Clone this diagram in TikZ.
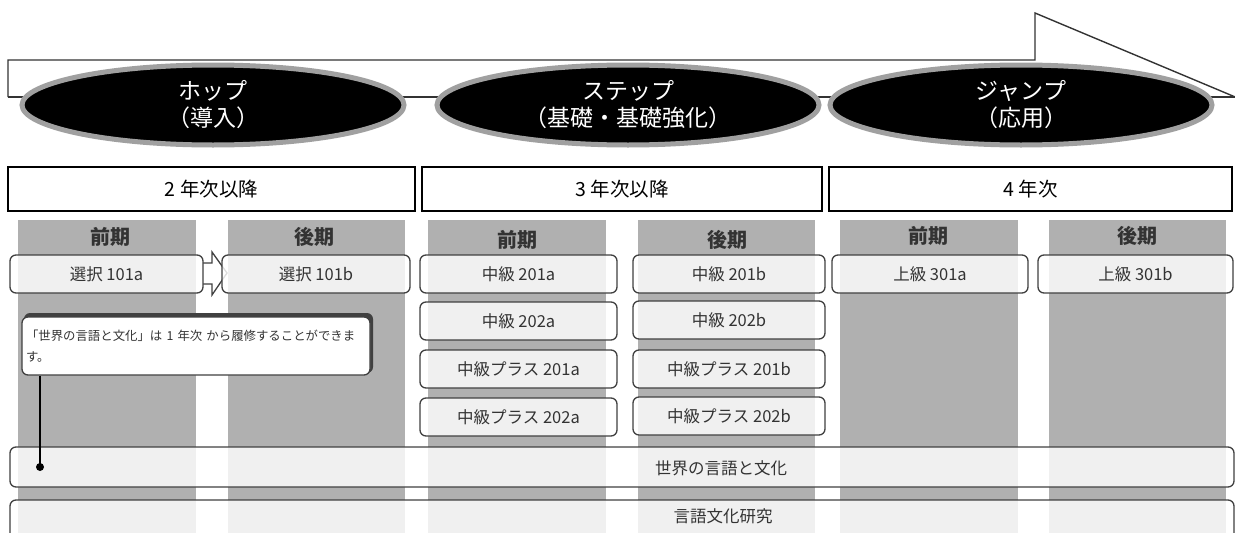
\documentclass[tikz,border=0pt]{standalone}
\usepackage{fontspec}
\setmainfont{Noto Sans CJK JP}
\usetikzlibrary{shapes.geometric}
\definecolor{colgrey}{HTML}{B0B0B0}
\definecolor{boxline}{HTML}{404040}
\definecolor{txtgrey}{HTML}{333333}
\definecolor{ellline}{HTML}{A0A0A0}
\tikzset{
  phase/.style={ellipse, fill=black, draw=ellline, line width=5pt, text=white,
    minimum width=382pt, minimum height=80pt, align=center, inner sep=0pt,
    font=\fontsize{23}{27}\selectfont},
  yearbox/.style={rectangle, draw=black, line width=1.3pt, fill=white,
    minimum height=44pt, inner sep=0pt, font=\fontsize{19.5}{22}\selectfont},
  termcol/.style={fill=colgrey, draw=none},
  hdr/.style={text=txtgrey, font=\fontsize{20}{22}\selectfont\bfseries, inner sep=0pt},
  course/.style={rectangle, rounded corners=6pt, draw=boxline, line width=1.3pt,
    fill=white, fill opacity=0.82, text opacity=1, text=txtgrey,
    minimum height=38pt, inner sep=0pt, font=\fontsize{16.5}{18}\selectfont},
  bar/.style={rectangle, rounded corners=6pt, draw=boxline, line width=1.3pt,
    fill=white, fill opacity=0.82, minimum width=1224pt, inner sep=0pt},
  bartext/.style={text=txtgrey, inner sep=0pt, font=\fontsize{16.5}{18}\selectfont},
  notebox/.style={rectangle, rounded corners=6pt, draw=boxline, line width=1.3pt,
    fill=white, text=txtgrey, minimum width=348pt, minimum height=58pt,
    text width=340pt, align=left, inner sep=0pt,
    font=\fontsize{12.4}{21}\selectfont},
  flowline/.style={draw=txtgrey, line width=1.4pt}
}
\begin{document}
\begin{tikzpicture}[x=1pt,y=-1pt]
\useasboundingbox (0,0) rectangle (1235,533);
\clip (0,0) rectangle (1235,533);

% big arrow
\draw[flowline, line join=miter] (8,97) -- (8,60) -- (1035,60) -- (1035,13) -- (1240,99);
\draw[flowline] (8,97) -- (1235,97);

% phase ellipses
\node[phase] (hop) at (213,105) {ホップ\\（導入）};
\node[phase] (stepph) at (628,105) {ステップ\\（基礎・基礎強化）};
\node[phase] (jump) at (1021,105) {ジャンプ\\（応用）};

% year boxes
\node[yearbox, minimum width=407pt] (y2) at (211.5,189) {2 年次以降};
\node[yearbox, minimum width=400pt] (y3) at (622,189) {3 年次以降};
\node[yearbox, minimum width=403pt] (y4) at (1030.5,189) {4 年次};

% term columns
\fill[termcol] (18,220) rectangle (196,540);
\fill[termcol] (228,220) rectangle (405,540);
\fill[termcol] (428,220) rectangle (606,540);
\fill[termcol] (638,220) rectangle (815,540);
\fill[termcol] (840,220) rectangle (1018,540);
\fill[termcol] (1049,220) rectangle (1226,540);

% headers
\node[hdr] (h1) at (110,237) {前期};
\node[hdr] (h2) at (314,237) {後期};
\node[hdr] (h3) at (517,240) {前期};
\node[hdr] (h4) at (727,240) {後期};
\node[hdr] (h5) at (928,236) {前期};
\node[hdr] (h6) at (1137,236) {後期};

% chevron between 選択 boxes
\draw[fill=white, draw=boxline, line width=1.3pt, line join=miter]
  (203,263) -- (212,263) -- (212,252) -- (227,273) -- (212,295) -- (212,284) -- (203,284);

% course boxes
\node[course, minimum width=193pt] (s101a) at (106.5,274) {選択 101a};
\node[course, minimum width=188pt] (s101b) at (316,274) {選択 101b};

\node[course, minimum width=197pt] (m201a) at (518.5,274) {中級 201a};
\node[course, minimum width=192pt] (m201b) at (729,274) {中級 201b};
\node[course, minimum width=197pt] (m202a) at (518.5,321) {中級 202a};
\node[course, minimum width=192pt] (m202b) at (729,320) {中級 202b};
\node[course, minimum width=197pt] (p201a) at (518.5,369) {中級プラス 201a};
\node[course, minimum width=192pt] (p201b) at (729,369) {中級プラス 201b};
\node[course, minimum width=197pt] (p202a) at (518.5,417) {中級プラス 202a};
\node[course, minimum width=192pt] (p202b) at (729,416) {中級プラス 202b};

\node[course, minimum width=196pt] (j301a) at (930,274) {上級 301a};
\node[course, minimum width=195pt] (j301b) at (1135.5,274) {上級 301b};

% bottom bars
\node[bar, minimum height=40pt] (world) at (622,467) {};
\node[bartext] (worldt) at (721,468) {世界の言語と文化};
\node[bar, minimum height=46pt] (study) at (622,523) {};
\node[bartext] (studyt) at (723,516) {言語文化研究};

% note callout
\fill[boxline, rounded corners=6pt] (24,313) rectangle (373,373);
\node[notebox] (note) at (196,346) {「世界の言語と文化」は 1 年次 から履修することができま\\す。};
\coordinate (dot) at (40,467);
\draw[black, line width=1.2pt] (note.south -| dot) -- (dot);
\fill[black] (dot) circle (4);
\end{tikzpicture}
\end{document}
